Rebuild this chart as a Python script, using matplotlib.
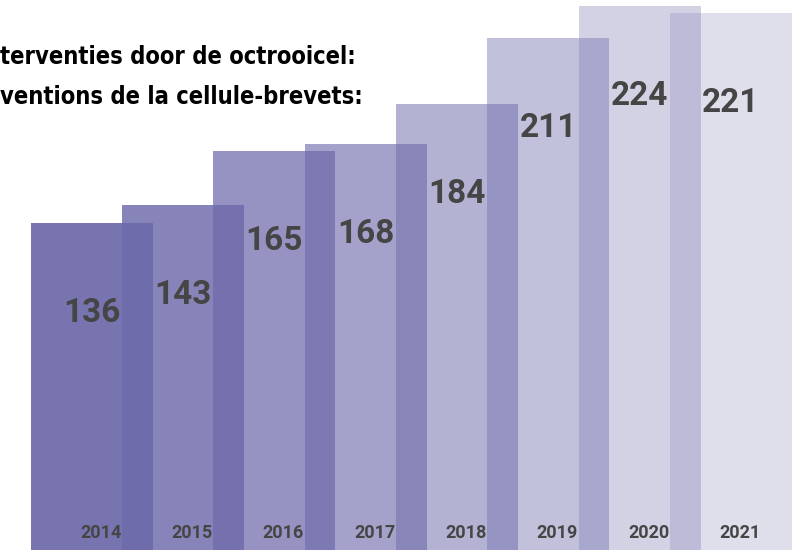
import matplotlib
matplotlib.use("Agg")
import matplotlib.pyplot as plt
import numpy as np

years = ["2014", "2015", "2016", "2017", "2018", "2019", "2020", "2021"]
values = [136, 143, 165, 168, 184, 211, 224, 221]
title_nl = "terventies door de octrooicel:"
title_fr = "ventions de la cellule-brevets:"

# style
base_color = (110 / 255, 107 / 255, 171 / 255)
alphas = [0.938, 0.828, 0.724, 0.628, 0.517, 0.414, 0.303, 0.214]
bar_width = 1.336
text_color = "#454545"

W, H = 801, 550
fig = plt.figure(figsize=(W / 100, H / 100), dpi=100)
ax = fig.add_axes([0, 0, 1, 1])
ax.set_xlim(-1.005, 7.768)
ax.set_ylim(3.09, 226.4)
ax.axis("off")

x = np.arange(len(years))
for i, (xi, v) in enumerate(zip(x, values)):
    ax.bar(xi, v, width=bar_width, color=base_color, alpha=alphas[i],
           linewidth=0, zorder=1 + i)

for xi, v in zip(x, values):
    ax.annotate(str(v), xy=(xi, v), xytext=(0, -90), textcoords="offset pixels",
                ha="center", va="center", fontsize=24, fontfamily="Roboto",
                fontweight="bold", color=text_color, zorder=20)

for xi, yr in zip(x, years):
    ax.text(xi + 0.1, 1 - 533.5 / H, yr, transform=ax.get_xaxis_transform(),
            ha="center", va="center", fontsize=13, fontfamily="Roboto",
            fontweight="bold", color=text_color, zorder=20)

fig.text(0.0, 1 - 64 / H, title_nl, ha="left", va="baseline", fontsize=17,
         fontfamily="DejaVu Sans", fontstretch="condensed", fontweight="bold",
         color="#000000")
fig.text(0.0, 1 - 104 / H, title_fr, ha="left", va="baseline", fontsize=17,
         fontfamily="DejaVu Sans", fontstretch="condensed", fontweight="bold",
         color="#000000")

fig.savefig("out.png", dpi=100)
